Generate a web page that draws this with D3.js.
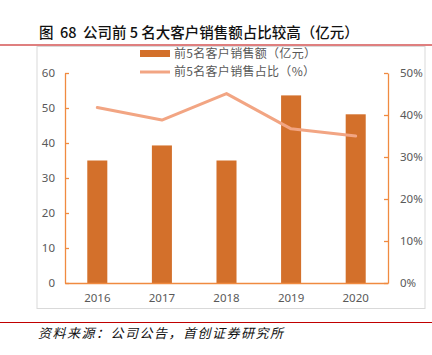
<!DOCTYPE html>
<html><head><meta charset="utf-8">
<script src="https://cdn.jsdelivr.net/npm/d3@7"></script>
<style>body{margin:0;background:#fff;}svg{display:block;}text{white-space:pre;}</style>
</head><body>
<script>
const categories = ["2016","2017","2018","2019","2020"];
const salesValues = [35, 39.3, 35, 53.6, 48.2];
const sharePct = [41.8, 38.8, 45.1, 36.7, 35.0];
const leftTicks = [0,10,20,30,40,50,60];
const rightTicks = [0,10,20,30,40,50];
const title = "图  68  公司前 5 名大客户销售额占比较高（亿元）";
const legend1 = "前5名客户销售额（亿元）";
const legend2 = "前5名客户销售占比（%）";
const source = "资料来源：公司公告，首创证券研究所";

const W=432,H=355;
const svg=d3.select("body").append("svg").attr("width",W).attr("height",H);
const font="'Noto Sans CJK SC','Noto Sans',sans-serif";
const barColor="#D3702B", lineColor="#F2A583", axisColor="#F08A40", textColor="#595959";

svg.append("text").attr("x",39).attr("y",38).attr("font-family",font).attr("font-size",14.5)
  .attr("fill","#111").attr("font-weight","500").attr("xml:space","preserve").text(title);
svg.append("line").attr("x1",0).attr("x2",432).attr("y1",45).attr("y2",45).attr("stroke","#C00000").attr("stroke-width",1.2);
svg.append("rect").attr("x",37).attr("y",46.5).attr("width",388).attr("height",262).attr("fill","none").attr("stroke","#D9D9D9");
svg.append("line").attr("x1",0).attr("x2",432).attr("y1",322.5).attr("y2",322.5).attr("stroke","#C00000").attr("stroke-width",1.2);
svg.append("text").attr("x",38).attr("y",338).attr("font-family",font).attr("font-size",13)
  .attr("letter-spacing",1.5).attr("font-style","italic").attr("fill","#111").text(source);

const x=d3.scaleBand().domain(categories).range([65,388]).paddingInner(0.69).paddingOuter(0.345);
const yL=d3.scaleLinear().domain([0,60]).range([283,73]);
const yR=d3.scaleLinear().domain([0,50]).range([283,73]);

svg.append("g").selectAll("rect").data(salesValues).join("rect")
  .attr("x",(d,i)=>x(categories[i])).attr("width",x.bandwidth())
  .attr("y",d=>yL(d)).attr("height",d=>283-yL(d)).attr("fill",barColor);

const line=d3.line().x((d,i)=>x(categories[i])+x.bandwidth()/2).y(d=>yR(d));
svg.append("path").datum(sharePct).attr("d",line).attr("fill","none")
  .attr("stroke",lineColor).attr("stroke-width",3).attr("stroke-linecap","round").attr("stroke-linejoin","round");

const la=svg.append("g").attr("transform","translate(65,0)").call(d3.axisLeft(yL).tickValues(leftTicks).tickSizeInner(-4).tickSizeOuter(0).tickPadding(10));
const ra=svg.append("g").attr("transform","translate(388,0)").call(d3.axisRight(yR).tickValues(rightTicks).tickFormat(d=>d+"%").tickSizeInner(-4).tickSizeOuter(0).tickPadding(12));
const ba=svg.append("g").attr("transform","translate(0,283)").call(d3.axisBottom(x).tickSize(0).tickPadding(11));
[la,ra,ba].forEach(g=>{
  g.selectAll("path,line").attr("stroke",axisColor).attr("stroke-width",1.3);
  g.selectAll("text").attr("fill",textColor).attr("font-family","'Noto Sans',sans-serif").attr("font-size",11.5);
});

// legend
svg.append("rect").attr("x",140).attr("y",50).attr("width",30).attr("height",7).attr("fill",barColor);
svg.append("text").attr("x",174).attr("y",58).attr("font-family",font).attr("font-size",12).attr("letter-spacing",0.3).attr("fill",textColor).text(legend1);
svg.append("line").attr("x1",140).attr("x2",170).attr("y1",72).attr("y2",72).attr("stroke",lineColor).attr("stroke-width",3);
svg.append("text").attr("x",174).attr("y",76).attr("font-family",font).attr("font-size",12).attr("letter-spacing",0.3).attr("fill",textColor).text(legend2);
</script>
</body></html>
